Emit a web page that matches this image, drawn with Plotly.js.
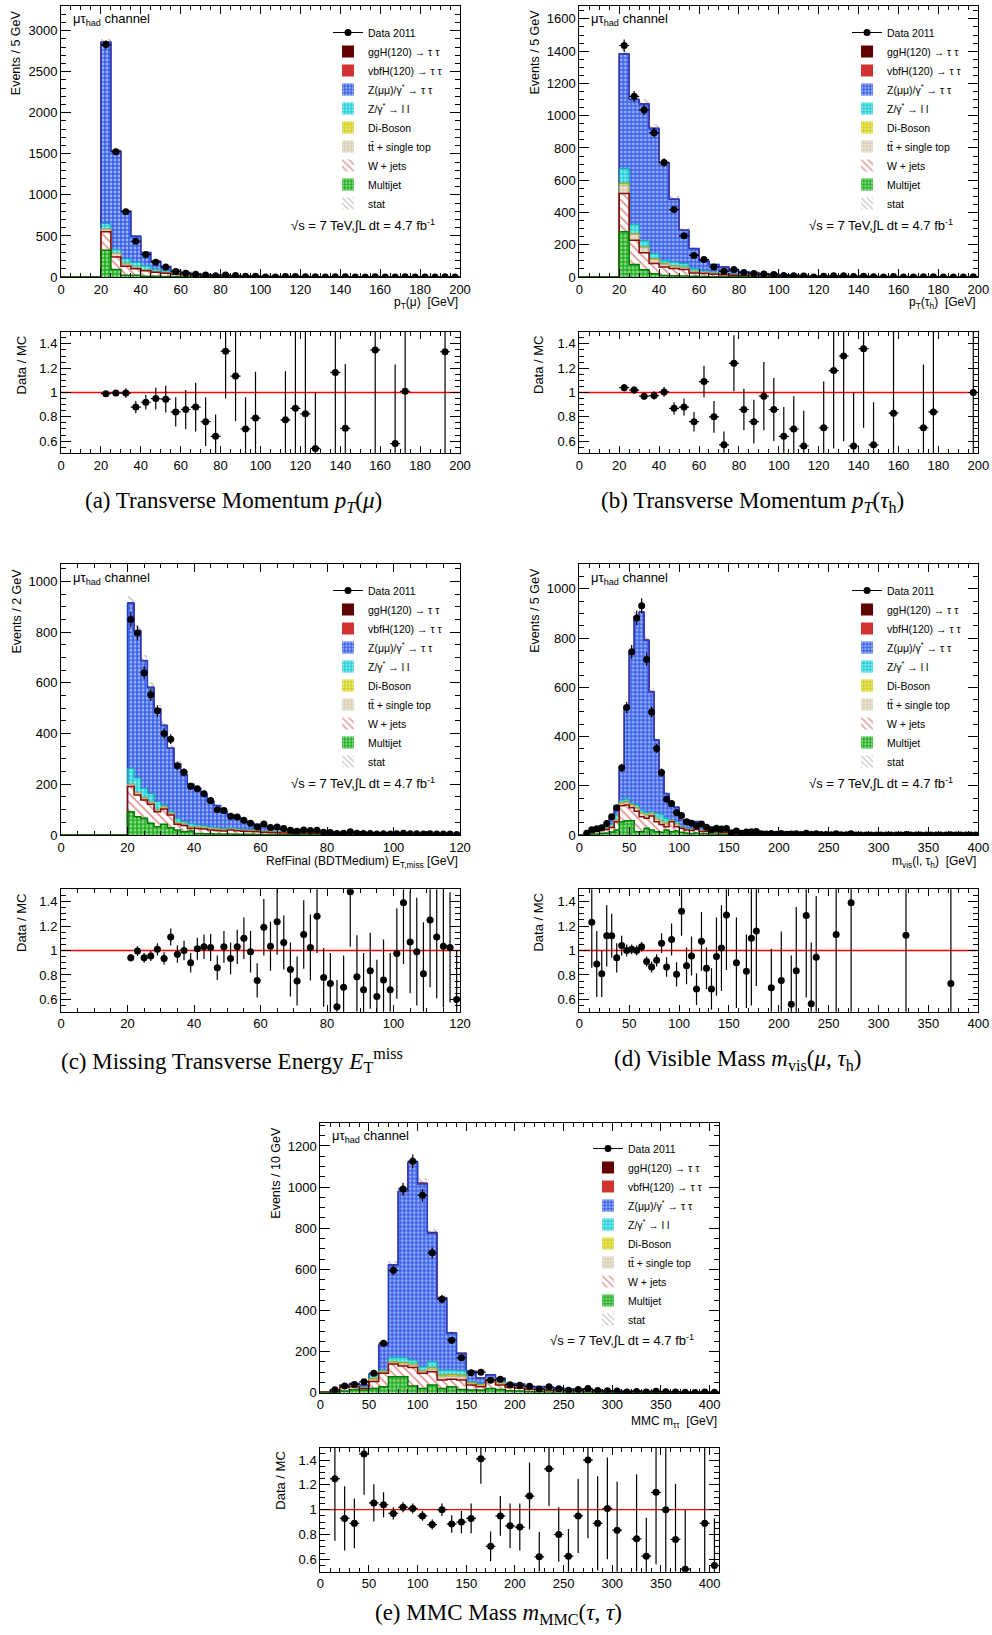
<!DOCTYPE html>
<html><head><meta charset="utf-8">
<script src="https://cdn.plot.ly/plotly-3.0.1.min.js"></script>
<style>html,body{margin:0;padding:0;background:#fff}</style>
</head><body><div id="chart" style="width:992px;height:1635px"></div>
<script>
// ---------------- DATA ----------------
// (a) pT(mu), 5 GeV bins
const centersA = [22.5,27.5,32.5,37.5,42.5,47.5,52.5,57.5,62.5,67.5,72.5,77.5,82.5,87.5,92.5,97.5,102.5,107.5,112.5,117.5,122.5,127.5,132.5,137.5,142.5,147.5,152.5,157.5,162.5,167.5,172.5,177.5,182.5,187.5,192.5,197.5];
const mjA  = [325,90,20,20,10,8,6,5,4,3, 2,2,1.5,1,1,1,0.5,0.5,0.5,0.5, 0.4,0.4,0.3,0.3,0.3,0.2,0.2,0.2,0.2,0.2, 0.1,0.1,0.1,0.1,0.1,0.1];
const wjA  = [225,155,110,80,65,50,40,30,22,17, 13,10,8,6.5,5.5,4.5,4,3.5,3,2.6, 2.3,2,1.8,1.6,1.5,1.3,1.2,1.1,1,0.9, 0.8,0.8,0.7,0.7,0.6,0.6];
const ttA  = [30,40,25,15,8,6,5,4,3,2.5, 2,1.6,1.4,1.2,1,0.9,0.8,0.7,0.6,0.5, 0.5,0.4,0.4,0.3,0.3,0.3,0.2,0.2,0.2,0.2, 0.2,0.2,0.1,0.1,0.1,0.1];
const dbA  = [5,5,5,5,4,3,2.5,2,1.6,1.3, 1,0.9,0.8,0.7,0.6,0.5,0.5,0.4,0.4,0.3, 0.3,0.3,0.2,0.2,0.2,0.2,0.2,0.2,0.1,0.1, 0.1,0.1,0.1,0.1,0.1,0.1];
const zllA = [65,45,60,60,50,30,20,12,8,6, 4.5,3.5,3,2.5,2,1.6,1.4,1.2,1,0.9, 0.8,0.7,0.6,0.5,0.5,0.4,0.4,0.3,0.3,0.3, 0.3,0.2,0.2,0.2,0.2,0.2];
const zttA = [2208,1197,580,316,160,94,54.5,27,16.4,10.2, 7.5,6,4.3,3.1,1.9,1.5,1.3,1.2,1.0,0.7, 0.7,0.7,0.7,0.7,0.5,0.6,0.5,0.5,0.5,0.4, 0.4,0.4,0.4,0.3,0.3,0.2];
const vbfA = [0.5,0.4,0.3,0.3,0.2,0.2,0.1];
const gghA = [3,2,1.5,1,0.8,0.5,0.3];
const statA = [40,28,20,15,11,9,7,5,4,3,3,2];
const dataA = [2830,1524,796,436,273,181,121,67,47,35, 23,15,25,17,8,8,0,0,5,5, 4,2,0,4,2,0,0,3,0,1, 2,0,0,0,2,0];
const ratioA = [0.99,0.995,0.995,0.88,0.92,0.95,0.945,0.84,0.86,0.88, 0.76,0.64,1.34,1.135,0.70,0.79,null,null,0.775,0.87, 0.825,0.54,null,1.165,0.705,null,null,1.35,null,0.58, 1.01,null,null,null,1.335,null];
const rerrA = [0.02,0.025,0.04,0.05,0.06,0.09,0.11,0.12,0.16,0.2, 0.2,0.18,0.39,0.37,0.26,0.38,null,null,0.4,0.7, 0.7,0.46,null,0.8,0.53,null,null,1.0,null,0.65, 1.0,null,null,null,1.0,null];

// (b) pT(tau_h), 5 GeV bins
const centersB = [22.5,27.5,32.5,37.5,42.5,47.5,52.5,57.5,62.5,67.5,72.5,77.5,82.5,87.5,92.5,97.5,102.5,107.5,112.5,117.5,122.5,127.5,132.5,137.5,142.5,147.5,152.5,157.5,162.5,167.5,172.5,177.5,182.5,187.5,192.5,197.5];
const mjB  = [280,77,45,20,10,8,6,4,3,2, 2,1.5,1.2,1,0.8,0.7,0.6,0.5,0.4,0.3, 0.3,0.3,0.2,0.2,0.2,0.2,0.1,0.1,0.1,0.1, 0.1,0.1,0.1,0.1,0.1,0.1];
const wjB  = [238,151,106,63,52,44,40,21,18,15, 12,9,8,7,5.5,4.8,4.2,3.6,3,2.5, 2.2,1.9,1.6,1.4,1.3,1.1,1,0.9,0.8,0.8, 0.7,0.7,0.6,0.6,0.5,0.5];
const ttB  = [50,35,30,26,16,12,10,8,6,5, 4,3,2.5,2.2,1.8,1.5,1.3,1.1,1,0.8, 0.7,0.6,0.5,0.5,0.4,0.4,0.3,0.3,0.3,0.3, 0.2,0.2,0.2,0.2,0.2,0.2];
const dbB  = [12,6,5,5,5,5,4,3,2,2, 1,1,1,0.8,0.7,0.6,0.5,0.4,0.4,0.3, 0.3,0.3,0.2,0.2,0.2,0.2,0.2,0.1,0.1,0.1, 0.1,0.1,0.1,0.1,0.1,0.1];
const zllB = [93,58,38,31,21,24,23,16,8,6, 5,4,3.5,3,2.5,2,1.6,1.4,1.2,1, 0.9,0.8,0.7,0.6,0.5,0.5,0.4,0.4,0.4,0.3, 0.3,0.3,0.3,0.2,0.2,0.2];
const zttB = [710,773,848,776,604,389,207,124,62,48, 38,19.5,16.8,14,8.7,7.4,5.8,5,4,3.1, 2.6,2.1,1.8,1.6,1.4,1.1,1.2,1.2,1.0,0.8, 0.6,0.6,0.5,0.5,0.5,0.4];
const vbfB = [0.3,0.3,0.3,0.3,0.3,0.2,0.2,0.1];
const gghB = [2,2,2,1.5,1.2,1,0.6,0.4];
const statB = [30,28,27,24,20,16,12,9,6,5,4,3];
const dataB = [1435,1120,1035,895,710,418,255,134,108,62, 35,47,28,21,19,15,9,8,6,0, 5,7,7,3,5,2,0,3,0,0, 1,2,0,0,0,2];
const ratioB = [1.04,1.02,0.97,0.975,1.005,0.87,0.88,0.76,1.09,0.80, 0.57,1.24,0.86,0.76,0.97,0.86,0.64,0.70,0.56,null, 0.71,1.18,1.30,0.56,1.36,0.57,null,0.83,null,null, 0.71,0.84,null,null,null,1.0];
const rerrB = [0.03,0.03,0.03,0.035,0.04,0.05,0.07,0.08,0.13,0.13, 0.11,0.23,0.17,0.18,0.28,0.26,0.24,0.27,0.29,null, 0.38,0.64,0.7,0.44,0.65,0.35,null,0.8,null,null, 0.52,0.7,null,null,null,0.8];

// (c) MET, 2 GeV bins
const centersC = [21,23,25,27,29,31,33,35,37,39,41,43,45,47,49,51,53,55,57,59,61,63,65,67,69,71,73,75,77,79,81,83,85,87,89,91,93,95,97,99,101,103,105,107,109,111,113,115,117,119];
const mjC  = [92,72,66,46,33,42,29,20,13,16, 6,5,5,4,4,4,3,3,3,2, 2,2,2,1,1,1,1,1,1,1, 1,1,1,0.5,0.5,0.5,0.5,0.4,0.4,0.4, 0.3,0.3,0.3,0.3,0.3,0.2,0.2,0.2,0.2,0.2];
const wjC  = [99,86,72,75,59,61,50,22,24,10, 20,19,15,14,12,16,14,12,11,11, 9,8,7,7,6,6,5,5,5,4, 4,3,3,3,3,3,2.8,2.6,2.4,2.2, 2,1.9,1.9,1.7,1.7,1.5,1.5,1.3,1.3,1.2];
const ttC  = [8,8,7,7,6,6,5,5,5,5, 4,4,4,4,3,3,3,3,3,2, 2,2,2,2,2,2,2,1,1,1, 1,1,1,1,1,0.8,0.8,0.7,0.7,0.6, 0.6,0.5,0.5,0.5,0.5,0.4,0.4,0.4,0.4,0.4];
const dbC  = [2,2,2,2,2,2,2,2,2,2, 2,2,2,2,2,1,1,1,1,1, 1,1,1,1,1,1,1,1,1,1, 1,1,0.5,0.5,0.5,0.4,0.4,0.4,0.4,0.3, 0.3,0.3,0.3,0.3,0.3,0.3,0.3,0.2,0.2,0.2];
const zllC = [62,58,37,34,32,7,6,17,9,13, 8,7,6,5,5,4,4,3,3,3, 2,2,2,2,2,1,1,1,1,1, 1,1,1,0.5,0.5,0.3,0.3,0.3,0.3,0.3, 0.3,0.2,0.2,0.2,0.2,0.2,0.2,0.2,0.2,0.2];
const zttC = [651,579,503,418,365,314,250,214,184,154, 144,121,100,87,66,52,43,31,25,23, 20,14,12,11,10,9,8,8,6,6, 5,4,3.5,3.5,3,3,2.7,2.6,2.3,2.2, 2,1.8,1.8,1.5,1.5,1.4,1.4,1.2,1.2,1.1];
const vbfC = [0.4,0.4,0.3,0.3,0.3,0.3,0.2,0.2,0.2,0.2];
const gghC = [2,2,2,1.5,1.5,1.2,1,1,0.8,0.7];
const statC = [25,22,20,18,16,15,13,11,10,9,8,7,6,6,5,5,4,4,3,3];
const dataC = [850,797,640,553,490,400,378,273,248,192, 182,163,136,100,97,74,71,58,46,32, 43,30,32,26,19,15,20,18,19,11, 10,6,7,13,7,6,6,4,5,4, 5,7,5,5,4,5,4,4,4,2];
const ratioC = [0.94,0.995,0.94,0.955,1.01,0.935,1.11,0.97,1.0,0.90, 1.015,1.03,1.025,0.86,1.03,0.935,1.03,1.10,0.99,0.755, 1.19,1.035,1.235,1.065,0.845,0.75,1.13,1.025,1.28,0.78, 0.73,0.54,0.70,1.48,0.785,0.68,0.835,0.625,0.76,0.68, 0.975,1.39,1.07,0.99,0.81,1.25,1.11,1.035,1.025,0.60];
const rerrC = [0.03,0.04,0.04,0.04,0.05,0.05,0.07,0.07,0.08,0.08, 0.09,0.1,0.11,0.1,0.13,0.13,0.14,0.17,0.17,0.14, 0.23,0.2,0.27,0.22,0.22,0.2,0.28,0.27,0.3,0.24, 0.25,0.22,0.26,0.45,0.34,0.3,0.31,0.3,0.33,0.3, 0.37,0.5,0.42,0.44,0.42,0.55,0.5,0.5,0.45,0.4];

// (d) visible mass, 5 GeV bins
const centersD = [2.5,7.5,12.5,17.5,22.5,27.5,32.5,37.5,42.5,47.5,52.5,57.5,62.5,67.5,72.5,77.5,82.5,87.5,92.5,97.5,102.5,107.5,112.5,117.5,122.5,127.5,132.5,137.5,142.5,147.5,152.5,157.5,162.5,167.5,172.5,177.5,182.5,187.5,192.5,197.5,202.5,207.5,212.5,217.5,222.5,227.5,232.5,237.5,242.5,247.5,252.5,257.5,262.5,267.5,272.5,277.5,282.5,287.5,292.5,297.5,302.5,307.5,312.5,317.5,322.5,327.5,332.5,337.5,342.5,347.5,352.5,357.5,362.5,367.5,372.5,377.5,382.5,387.5,392.5,397.5];
const mjD  = [0.2,1,3,4,6,8,12,20,54,58, 58,13,13,27,20,13,11,20,13,16, 11,7,6,8,5,5,4,4,3,3, 2,2,2,2,1,1,1,1,1,1, 0.5,0.5,0.5,0.5,0.5,0.5,0.5,0.5,0.5,0.5, 0.4,0.4,0.4,0.4,0.4,0.4,0.4,0.4,0.4,0.4, 0.3,0.3,0.3,0.3,0.3,0.3,0.3,0.3,0.3,0.3, 0.2,0.2,0.2,0.2,0.2,0.2,0.2,0.2,0.2,0.2];
const wjD  = [0.5,2,6,10,12,14,18,34,65,64, 53,84,61,41,57,41,32,14,41,18, 16,13,12,14,9,9,8,8,7,6, 6,6,5,5,5,5,4.5,4,3.5,3.3, 3.2,3.1,3.0,2.9,2.8,2.7,2.6,2.5,2.4,2.3, 2.2,2.1,2.0,1.9,1.8,1.7,1.6,1.5,1.4,1.3, 1.2,1.2,1.1,1.1,1.0,1.0,0.9,0.9,0.8,0.7, 0.7,0.7,0.6,0.6,0.6,0.6,0.5,0.5,0.4,0.4];
const ttD  = [0.1,0.3,1,2,2,3,4,6,9,10, 8,10,12,10,8,10,10,10,3,8, 3,3,3,3,3,2,2,2,2,2, 2,2,2,1,1,1,1,1,1,1, 0.5,0.5,0.5,0.5,0.5,0.5,0.5,0.5,0.5,0.5, 0.4,0.4,0.4,0.4,0.4,0.4,0.4,0.4,0.4,0.4, 0.3,0.3,0.3,0.3,0.3,0.3,0.3,0.3,0.3,0.3, 0.2,0.2,0.2,0.2,0.2,0.2,0.2,0.2,0.2,0.2];
const dbD  = [0,0.1,0.5,1,1,1,1,2,4,4, 4,4,4,4,3,4,4,4,2,3, 1,1,1,1,1,1,1,1,1,1, 1,1,1,1,0.5,0.5,0.5,0.5,0.5,0.4, 0.2,0.2,0.2,0.2,0.2,0.2,0.2,0.2,0.2,0.2, 0.2,0.2,0.2,0.2,0.2,0.2,0.2,0.2,0.2,0.2, 0.1,0.1,0.1,0.1,0.1,0.1,0.1,0.1,0.1,0.1, 0.1,0.1,0.1,0.1,0.1,0.1,0.1,0.1,0.1,0.1];
const zllD = [0.1,0.4,3,4,5,6,10,19,10,10, 5,11,11,10,7,20,27,20,2,9, 3,3,3,4,2,2,2,2,2,1, 1,1,1,1,0.5,0.5,0.5,0.5,0.5,0.4, 0.3,0.3,0.3,0.3,0.3,0.3,0.3,0.3,0.3,0.3, 0.2,0.2,0.2,0.2,0.2,0.2,0.2,0.2,0.2,0.2, 0.1,0.1,0.1,0.1,0.1,0.1,0.1,0.1,0.1,0.1, 0.1,0.1,0.1,0.1,0.1,0.1,0.1,0.1,0.1,0.1];
const zttD = [0.1,0.2,3.5,7,10,10,21,37,120,374, 608,763,804,698,486,297,156,100,57,59, 26,35,25,25,22,17,13,11,9,7, 6,6,5,4,4,4,3.5,3,2.5,2.4, 3.3,2.9,2.5,2.1,1.7,1.3,1.2,1.0,0.8,0.6, 0.8,0.7,0.6,0.5,0.4,0.3,0.2,0.2,0.2,0.1, 0.5,0.4,0.4,0.3,0.3,0.2,0.2,0.1,0.1,0.1, 0.3,0.2,0.2,0.2,0.1,0.1,0.1,0.1,0.1,0.1];
const vbfD = [0,0,0,0,0,0,0,0,0.1,0.1,0.2,0.3,0.4,0.5,0.5,0.4,0.3,0.2,0.2,0.1];
const gghD = [0,0,0,0,0,0,0,0,0.3,0.6,1,1.5,2,2.5,2.5,2,1.5,1,0.8,0.5];
const statD = [0,0,2,3,3,3,4,5,8,12, 16,18,18,17,14,11,8,6,5,5, 4,4,3,3,3,3,2,2,2,2];
const dataD = [null,7,21,25,29,47,74,111,273,518, 745,882,932,713,500,352,254,145,128,91, 79,54,48,38,45,31,21,27,24,26, 8,16,7,12,13,14,5,4,6,3, 6,3,4,5,2,7,3,5,2,2, 1,5,1,1,5,0,0,0,0,0, 0,0,0,0,0,2,0,0,0,0, 0,0,0,0,1,0,0,0,0,0];
const ratioD = [null,null,1.23,0.89,0.81,1.12,1.12,0.94,1.04,1.0, 1.01,1.0,1.03,0.91,0.865,0.92,1.06,0.865,1.09,0.805, 1.32,0.875,0.955,0.685,1.075,0.855,0.685,0.95,1.02,1.29, null,0.90,null,0.83,1.10,1.16,null,null,0.695,null, 0.755,null,0.56,0.835,null,1.285,0.565,0.945,null,null, null,1.13,null,null,1.39,null,null,null,null,null, null,null,null,null,null,1.125,null,null,null,null, null,null,null,null,0.73,null,null,null,null,null];
const rerrD = [null,null,0.37,0.27,0.19,0.25,0.18,0.12,0.08,0.05, 0.04,0.04,0.04,0.04,0.045,0.05,0.08,0.08,0.13,0.1, 0.2,0.15,0.16,0.13,0.24,0.17,0.17,0.32,0.35,0.45, null,0.37,null,0.3,0.55,0.45,null,null,0.32,null, 0.4,null,0.4,0.52,null,0.67,0.5,0.5,null,null, null,0.9,null,null,1.0,null,null,null,null,null, null,null,null,null,null,1.0,null,null,null,null, null,null,null,null,1.0,null,null,null,null,null];

// (e) MMC mass, 10 GeV bins
const centersE = [5,15,25,35,45,55,65,75,85,95,105,115,125,135,145,155,165,175,185,195,205,215,225,235,245,255,265,275,285,295,305,315,325,335,345,355,365,375,385,395,405];
const mjE  = [1,2,8,16,13,21,29,78,78,32, 21,37,21,29,16,13,13,21,16,10, 8,5,5,4,4,3,3,2,2,1.5, 1.5,1,1,0.8,0.8,0.7,0.6,0.5,0.5,0.4,0.3];
const wjE  = [2,4,18,13,8,33,65,61,52,91, 73,65,41,36,46,24,16,41,21,15, 14,10,11,8,9,7,6,5,4.5,4, 3.5,3.2,3,2.6,2.4,2.2,2,1.8,1.6,1.4,1.2];
const ttE  = [0.5,1,2,3,3,10,6,7,10,10, 8,12,15,15,15,8,7,4,8,3, 3,2,2,2,2,2,2,1.5,1.5,1, 1,1,0.9,0.8,0.7,0.6,0.6,0.5,0.4,0.4,0.3];
const dbE  = [0.2,0.5,1,1,1,6,4,5,6,6, 4,7,8,8,8,4,4,2,4,1, 1,1,1,1,1,1,1,0.5,0.5,0.5, 0.5,0.4,0.4,0.3,0.3,0.3,0.2,0.2,0.2,0.2,0.1];
const zllE = [0.8,1.5,3,4,4,16,6,21,26,20, 20,30,25,22,22,5,5,2,5,1, 1,1,1,1,1,1,1,1,0.5,0.5, 0.5,0.4,0.4,0.4,0.3,0.3,0.3,0.3,0.2,0.2,0.2];
const zttE = [0.5,2,4,8,8,4,122,449,806,960, 889,624,349,179,84,50,26,17,16,15, 15,9,10,6,7,5,4,4,3,2.5, 2,2,1.8,1.6,1.5,1.4,1.3,1.2,1.1,0.9,0.9];
const vbfE = [0,0,0,0,0,0,0,0.2,0.4,0.7,0.9,0.9,0.7,0.5,0.3,0.2,0.1];
const gghE = [0,0,0,0,0,0,0.2,1,2,3.5,4.5,4.5,3.5,2.5,1.5,0.8,0.4];
const statE = [1,2,3,4,4,5,8,16,22,24, 22,18,14,10,7,5,4,4,3,3];
const dataE = [null,14,33,40,53,95,241,595,990,1125, 960,680,455,255,170,97,100,61,66,39, 36,31,18,29,19,12,16,20,11,10, 8,3,6,4,7,5,4,2,1,3,2];
const ratioE = [null,1.25,0.93,0.89,1.45,1.055,1.04,0.97,1.02,1.01, 0.95,0.88,1.0,0.885,0.90,0.93,1.41,0.705,0.95,0.87, 0.86,1.11,0.62,1.33,0.80,0.625,0.95,1.40,0.89,1.01, 0.835,null,0.765,0.625,1.14,1.0,0.76,0.52,null,0.89,0.55];
const rerrE = [null,0.5,0.26,0.2,0.33,0.15,0.1,0.05,0.04,0.04, 0.04,0.04,0.05,0.07,0.09,0.12,0.2,0.12,0.16,0.18, 0.19,0.27,0.2,0.3,0.22,0.22,0.3,0.63,0.38,0.41, 0.39,null,0.52,0.31,0.58,0.7,0.45,0.48,null,0.7,0.38];

// ---------------- DRAWING ----------------
const W = 992, H = 1635;
const fx = p => p / W, fy = p => 1 - p / H;
const SANS = 'Liberation Sans, Arial, Helvetica, sans-serif';
const SERIF = 'Liberation Serif, Times New Roman, serif';

const dots = fg => ({shape: '.', fgcolor: fg, size: 4, solidity: 0.4, fillmode: 'overlay'});
const comps = [ // bottom -> top
  {key: 'mj',  name: 'Multijet', rank: 9, color: '#20b020', pat: dots('#ffffff'), line: '#007a00', lw: 1.5},
  {key: 'wj',  name: 'W + jets', rank: 8, color: '#ffffff', pat: {shape: '\\', fgcolor: '#c42828', size: 6, solidity: 0.3, fillmode: 'overlay'}, line: '#8b0a0a', lw: 1.5},
  {key: 'tt',  name: 'tt\u0304 + single top', rank: 7, color: '#d8ceb4', pat: dots('#ffffff'), line: '#b8aa88', lw: 1},
  {key: 'db',  name: 'Di-Boson', rank: 6, color: '#d4d018', pat: dots('#ffffff'), line: '#aaa400', lw: 1},
  {key: 'zll', name: 'Z/\u03b3<sup>*</sup> \u2192 l l', rank: 5, color: '#22d0d6', pat: dots('#ffffff'), line: '#10a8b0', lw: 1},
  {key: 'ztt', name: 'Z(\u03bc\u03bc)/\u03b3<sup>*</sup> \u2192 \u03c4 \u03c4', rank: 4, color: '#3a62ea', pat: dots('#ffffff'), line: '#2040d0', lw: 1.5},
  {key: 'vbf', name: 'vbfH(120) \u2192 \u03c4 \u03c4', rank: 3, color: '#d23232', pat: null, line: '#d23232', lw: 1},
  {key: 'ggh', name: 'ggH(120) \u2192 \u03c4 \u03c4', rank: 2, color: '#600000', pat: null, line: '#600000', lw: 1}
];

const panels = [
  {letter: 'a', centers: centersA, bw: 5, vals: {mj: mjA, wj: wjA, tt: ttA, db: dbA, zll: zllA, ztt: zttA, vbf: vbfA, ggh: gghA}, stat: statA, data: dataA, ratio: ratioA, rerr: rerrA,
   ax: ['x', 'y', 'x2', 'y2'], leg: 'legend', xr: [0, 200], yr: [0, 3300], xd: 20, xm: 5, yd: 500, ym: 100,
   pos: {xl: 61, xr: 460, mT: 6, mB: 277, rT: 331.7, rB: 453.3, ytX: 16.7, rtX: 21.7, chX: 71, chY: 20, luX: 437, luY: 225, xtY: 303, lgX: 328, lgY: 18, cpX: 233, cpY: 502},
   ytitle: 'Events / 5 GeV', xtitle: 'p<sub>T</sub>(\u03bc)\u00a0\u00a0[GeV]',
   caption: '(a) Transverse Momentum <i>p<sub>T</sub></i>(<i>\u03bc</i>)'},
  {letter: 'b', centers: centersB, bw: 5, vals: {mj: mjB, wj: wjB, tt: ttB, db: dbB, zll: zllB, ztt: zttB, vbf: vbfB, ggh: gghB}, stat: statB, data: dataB, ratio: ratioB, rerr: rerrB,
   ax: ['x3', 'y3', 'x4', 'y4'], leg: 'legend2', xr: [0, 200], yr: [0, 1680], xd: 20, xm: 5, yd: 200, ym: 50,
   pos: {xl: 579.3, xr: 978.3, mT: 6, mB: 277, rT: 331.7, rB: 453.3, ytX: 535, rtX: 538.3, chX: 589.3, chY: 20, luX: 955, luY: 225, xtY: 303, lgX: 847, lgY: 18, cpX: 752, cpY: 502},
   ytitle: 'Events / 5 GeV', xtitle: 'p<sub>T</sub>(\u03c4<sub>h</sub>)\u00a0\u00a0[GeV]',
   caption: '(b) Transverse Momentum <i>p<sub>T</sub></i>(<i>\u03c4</i><sub>h</sub>)'},
  {letter: 'c', centers: centersC, bw: 2, vals: {mj: mjC, wj: wjC, tt: ttC, db: dbC, zll: zllC, ztt: zttC, vbf: vbfC, ggh: gghC}, stat: statC, data: dataC, ratio: ratioC, rerr: rerrC,
   ax: ['x5', 'y5', 'x6', 'y6'], leg: 'legend3', xr: [0, 120], yr: [0, 1068], xd: 20, xm: 5, yd: 200, ym: 50,
   pos: {xl: 61, xr: 460, mT: 564.3, mB: 835, rT: 889.3, rB: 1011.7, ytX: 16.7, rtX: 21.7, chX: 71, chY: 578.3, luX: 437, luY: 782.7, xtY: 862, lgX: 328, lgY: 576, cpX: 232, cpY: 1060},
   ytitle: 'Events / 2 GeV', xtitle: 'RefFinal (BDTMedium) E<sub>T,miss</sub> [GeV]',
   caption: '(c) Missing Transverse Energy <i>E</i><sub>T</sub><sup>miss</sup>'},
  {letter: 'd', centers: centersD, bw: 5, vals: {mj: mjD, wj: wjD, tt: ttD, db: dbD, zll: zllD, ztt: zttD, vbf: vbfD, ggh: gghD}, stat: statD, data: dataD, ratio: ratioD, rerr: rerrD,
   ax: ['x7', 'y7', 'x8', 'y8'], leg: 'legend4', xr: [0, 400], yr: [0, 1100], xd: 50, xm: 10, yd: 200, ym: 50,
   pos: {xl: 579.3, xr: 978.3, mT: 564.3, mB: 835, rT: 889.3, rB: 1011.7, ytX: 535, rtX: 538.3, chX: 589.3, chY: 578.3, luX: 955, luY: 782.7, xtY: 862, lgX: 847, lgY: 576, cpX: 737, cpY: 1060},
   ytitle: 'Events / 5 GeV', xtitle: 'm<sub>vis</sub>(l, \u03c4<sub>h</sub>)\u00a0\u00a0[GeV]',
   caption: '(d) Visible Mass <i>m</i><sub>vis</sub>(<i>\u03bc</i>, <i>\u03c4</i><sub>h</sub>)'},
  {letter: 'e', centers: centersE, bw: 10, vals: {mj: mjE, wj: wjE, tt: ttE, db: dbE, zll: zllE, ztt: zttE, vbf: vbfE, ggh: gghE}, stat: statE, data: dataE, ratio: ratioE, rerr: rerrE,
   ax: ['x9', 'y9', 'x10', 'y10'], leg: 'legend5', xr: [0, 410], yr: [0, 1313], xd: 50, xm: 10, yd: 200, ym: 50,
   pos: {xl: 320.3, xr: 719.3, mT: 1122.7, mB: 1392.7, rT: 1447.7, rB: 1571.7, ytX: 276, rtX: 281, chX: 330.3, chY: 1136, luX: 696, luY: 1340, xtY: 1422, lgX: 588, lgY: 1134, cpX: 498, cpY: 1614},
   ytitle: 'Events / 10 GeV', xtitle: 'MMC m<sub>\u03c4\u03c4</sub>\u00a0\u00a0[GeV]',
   caption: '(e) MMC Mass <i>m</i><sub>MMC</sub>(<i>\u03c4</i>, <i>\u03c4</i>)'}
];

const traces = [];
const layout = {
  width: W, height: H, margin: {l: 0, r: 0, t: 0, b: 0},
  paper_bgcolor: '#ffffff', plot_bgcolor: '#ffffff',
  barmode: 'overlay', bargap: 0, hovermode: false, showlegend: true,
  font: {family: SANS, size: 12, color: '#000'},
  annotations: [], shapes: []
};

const axName = id => id.replace(/^x/, 'xaxis').replace(/^y/, 'yaxis');

function baseAxis(extra) {
  return Object.assign({
    showline: true, linecolor: '#000', linewidth: 1, mirror: 'allticks',
    ticks: 'inside', tickcolor: '#000', tickwidth: 1, ticklen: 8,
    showgrid: false, zeroline: false, fixedrange: true, tick0: 0,
    tickfont: {family: SANS, size: 13, color: '#000'}
  }, extra);
}

function ann(text, x, y, opts) {
  return Object.assign({xref: 'paper', yref: 'paper', x: fx(x), y: fy(y), text: text, showarrow: false,
    font: {family: SANS, size: 13, color: '#000'}, xanchor: 'left', yanchor: 'middle'}, opts || {});
}

function stepLine(centers, bw, tops, x0, color, width, xa, ya) {
  const xs = [x0], ys = [0];
  centers.forEach((c, i) => { xs.push(c - bw / 2); ys.push(tops[i]); });
  const xend = centers[centers.length - 1] + bw / 2;
  xs.push(xend); ys.push(tops[tops.length - 1]);
  xs.push(xend); ys.push(0);
  return {type: 'scatter', mode: 'lines', x: xs, y: ys, xaxis: xa, yaxis: ya,
    line: {shape: 'hv', color: color, width: width}, showlegend: false, hoverinfo: 'skip'};
}

panels.forEach(p => {
  const [xm, ym, xr, yr] = p.ax;
  const n = p.centers.length;
  const P = p.pos;

  // cumulative stack
  const cum = new Array(n).fill(0);
  const tops = {};
  comps.forEach(c => {
    const v = p.vals[c.key];
    const vals = p.centers.map((_, i) => v[i] || 0);
    const base = cum.slice();
    vals.forEach((val, i) => { cum[i] += val; });
    tops[c.key] = cum.slice();
    const marker = {color: c.color, line: {width: 0}};
    if (c.pat) marker.pattern = Object.assign({bgcolor: c.color}, c.pat);
    traces.push({type: 'bar', x: p.centers, y: vals, base: base, width: p.bw, xaxis: xm, yaxis: ym,
      name: c.name, legend: p.leg, legendrank: c.rank, marker: marker, hoverinfo: 'skip'});
  });
  const total = cum.slice();

  // MC stat band
  const sc = p.centers.slice(0, p.stat.length);
  traces.push({type: 'bar', x: sc, y: p.stat.map(s => 2 * s), base: p.stat.map((s, i) => total[i] - s),
    width: p.bw, xaxis: xm, yaxis: ym, name: 'stat', legend: p.leg, legendrank: 10,
    marker: {color: 'rgba(0,0,0,0)', line: {width: 0},
      pattern: {shape: '\\', fgcolor: '#707070', bgcolor: 'rgba(0,0,0,0)', size: 5, solidity: 0.25, fillmode: 'overlay'}},
    hoverinfo: 'skip'});

  // outlines, top first, bottom last
  comps.slice().reverse().forEach(c => {
    traces.push(stepLine(p.centers, p.bw, tops[c.key], p.xr[0], c.line, c.lw, xm, ym));
  });

  // data
  traces.push({type: 'scatter', mode: 'markers', x: p.centers, y: p.data, xaxis: xm, yaxis: ym,
    marker: {color: '#000', size: 7, symbol: 'circle'},
    error_y: {type: 'sqrt', color: '#000', thickness: 1.2, width: 0},
    error_x: {type: 'constant', value: p.bw / 2, color: '#000', thickness: 1.2, width: 0},
    showlegend: false, hoverinfo: 'skip', cliponaxis: true});
  // legend entry for data
  traces.push({type: 'scatter', mode: 'lines+markers', x: [null], y: [null], xaxis: xm, yaxis: ym,
    name: 'Data 2011', legend: p.leg, legendrank: 1,
    line: {color: '#000', width: 1}, marker: {color: '#000', size: 7}});

  // ratio
  traces.push({type: 'scatter', mode: 'markers', x: p.centers, y: p.ratio, xaxis: xr, yaxis: yr,
    marker: {color: '#000', size: 7},
    error_y: {type: 'data', array: p.rerr, symmetric: true, color: '#000', thickness: 1.2, width: 0},
    error_x: {type: 'constant', value: p.bw / 2, color: '#000', thickness: 1.2, width: 0},
    showlegend: false, hoverinfo: 'skip'});

  // axes
  const xdom = [fx(P.xl), fx(P.xr)];
  layout[axName(xm)] = baseAxis({domain: xdom, range: p.xr, dtick: p.xd, anchor: ym, ticklen: 8,
    minor: {dtick: p.xm, ticks: 'inside', ticklen: 4, tickcolor: '#000', tickwidth: 1, showgrid: false}});
  layout[axName(ym)] = baseAxis({domain: [fy(P.mB), fy(P.mT)], range: p.yr, dtick: p.yd, anchor: xm, ticklen: 10,
    minor: {dtick: p.ym, ticks: 'inside', ticklen: 5, tickcolor: '#000', tickwidth: 1, showgrid: false}});
  layout[axName(xr)] = baseAxis({domain: xdom, range: p.xr, dtick: p.xd, anchor: yr, ticklen: 7,
    minor: {dtick: p.xm, ticks: 'inside', ticklen: 4, tickcolor: '#000', tickwidth: 1, showgrid: false}});
  layout[axName(yr)] = baseAxis({domain: [fy(P.rB), fy(P.rT)], range: [0.5, 1.5], dtick: 0.2, anchor: xr, ticklen: 10,
    minor: {dtick: 0.05, ticks: 'inside', ticklen: 5, tickcolor: '#000', tickwidth: 1, showgrid: false}});

  // red unity line
  layout.shapes.push({type: 'line', xref: xr + ' domain', yref: yr, x0: 0, x1: 1, y0: 1, y1: 1,
    line: {color: '#ff0000', width: 1.3}, layer: 'below'});

  // legend
  layout[p.leg] = {x: fx(P.lgX), y: fy(P.lgY), xanchor: 'left', yanchor: 'top', bgcolor: 'rgba(0,0,0,0)',
    borderwidth: 0, traceorder: 'normal', font: {family: SANS, size: 10.5, color: '#000'},
    itemclick: false, itemdoubleclick: false};

  // texts
  layout.annotations.push(ann(p.ytitle, P.ytX, P.mT + 2, {xanchor: 'center', yanchor: 'top', textangle: -90, font: {family: SANS, size: 12.5, color: '#000'}}));
  layout.annotations.push(ann('Data / MC', P.rtX, P.rT + 1.5, {xanchor: 'center', yanchor: 'top', textangle: -90, font: {family: SANS, size: 13, color: '#000'}}));
  layout.annotations.push(ann(p.xtitle, P.xr, P.xtY, {xanchor: 'right', font: {family: SANS, size: 12, color: '#000'}}));
  layout.annotations.push(ann('\u03bc\u03c4<sub>had</sub> channel', P.chX, P.chY, {font: {family: SANS, size: 13, color: '#000'}}));
  layout.annotations.push(ann('\u221as = 7 TeV,\u222bL dt = 4.7 fb<sup>-1</sup>', P.luX, P.luY, {xanchor: 'right', font: {family: SANS, size: 13, color: '#000'}}));
  layout.annotations.push(ann(p.caption, P.cpX, P.cpY, {xanchor: 'center', font: {family: SERIF, size: 23, color: '#000'}}));
});

Plotly.newPlot('chart', traces, layout, {staticPlot: true, displayModeBar: false});
</script></body></html>
